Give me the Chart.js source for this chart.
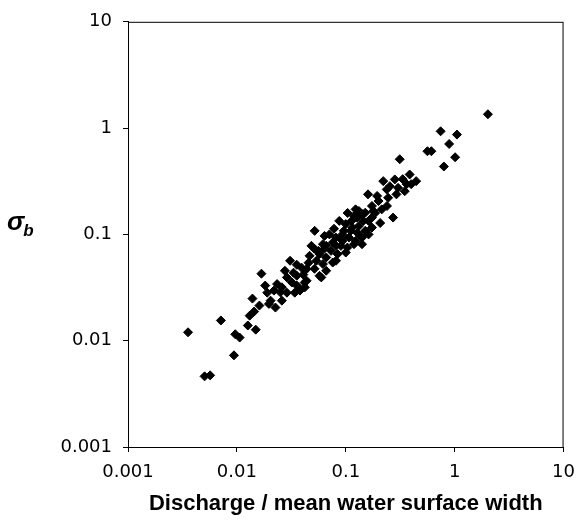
<!DOCTYPE html>
<html>
<head>
<meta charset="utf-8">
<script src="https://cdn.jsdelivr.net/npm/chart.js@4.4.0/dist/chart.umd.min.js"></script>
<style>
    body { margin: 0; background: #fff; }
    canvas { display: block; }
</style>
</head>
<body>
<canvas id="chart" width="585" height="520"></canvas>
<script>
// Discharge / mean water surface width (x) vs sigma_b (y)
const discharge = [
    2.02, 0.743, 1.05, 0.89, 0.562, 0.611, 1.01, 0.796, 0.313, 0.443,
    0.386, 0.399, 0.282, 0.221, 0.238, 0.245, 0.302, 0.292, 0.160, 0.200,
    0.174, 0.214, 0.132, 0.151, 0.127, 0.162, 0.272, 0.0871, 0.100, 0.115,
    0.132, 0.151, 0.174, 0.0708, 0.0813, 0.0933, 0.107, 0.123, 0.141, 0.162,
    0.0759, 0.0902, 0.1035, 0.119, 0.141, 0.0733, 0.0841, 0.100, 0.0661, 0.0518,
    0.0638, 0.0617, 0.0484, 0.0574, 0.0759, 0.0617, 0.0537, 0.0308, 0.0355, 0.0394,
    0.0331, 0.0407, 0.0437, 0.0574, 0.0288, 0.0320, 0.0355, 0.0379, 0.0234, 0.0259,
    0.0219, 0.0251, 0.0204, 0.0226, 0.0168, 0.0139, 0.0144, 0.0131, 0.00713, 0.0126,
    0.0149, 0.00356, 0.00966, 0.0106, 0.0094, 0.00505, 0.00568, 0.0197, 0.0421, 0.0661,
    0.0813, 0.0596, 0.0933, 0.123, 0.141, 0.174, 0.0288, 0.0465, 0.0516, 0.096,
    0.113, 0.186, 0.239, 0.348, 0.207, 0.0634, 0.0437, 0.019, 0.0276, 0.0355,
    0.0455, 0.0516, 0.056, 0.0661, 0.078, 0.0902, 0.111, 0.128, 0.145, 0.179,
    0.194, 0.254, 0.333, 0.362, 0.119, 0.104, 0.0813, 0.0419, 0.034, 0.0182,
    0.0259, 0.0161
];
const sigmaB = [
    1.35, 0.933, 0.869, 0.709, 0.606, 0.606, 0.532, 0.435, 0.509, 0.317,
    0.366, 0.297, 0.329, 0.317, 0.265, 0.221, 0.274, 0.238, 0.238, 0.206,
    0.185, 0.172, 0.166, 0.160, 0.144, 0.134, 0.144, 0.134, 0.125, 0.116,
    0.120, 0.108, 0.116, 0.100, 0.0933, 0.100, 0.0933, 0.0869, 0.0933, 0.100,
    0.0838, 0.078, 0.0752, 0.0809, 0.0809, 0.070, 0.0653, 0.0675, 0.0607, 0.108,
    0.0968, 0.0809, 0.078, 0.0653, 0.0544, 0.0526, 0.0565, 0.0565, 0.0518, 0.0485,
    0.0436, 0.0418, 0.0472, 0.0408, 0.0394, 0.0353, 0.033, 0.0296, 0.0341, 0.0318,
    0.0296, 0.0285, 0.0238, 0.0205, 0.0427, 0.0249, 0.0188, 0.0172, 0.0155, 0.0139,
    0.0127, 0.0120, 0.0115, 0.0107, 0.00728, 0.00462, 0.00472, 0.0222, 0.0318, 0.0455,
    0.0565, 0.0394, 0.0869, 0.172, 0.155, 0.144, 0.0283, 0.0629, 0.0731, 0.108,
    0.134, 0.159, 0.185, 0.255, 0.128, 0.0731, 0.0366, 0.0283, 0.0455, 0.0408,
    0.0541, 0.0475, 0.070, 0.078, 0.113, 0.0908, 0.108, 0.103, 0.134, 0.166,
    0.230, 0.284, 0.331, 0.297, 0.149, 0.159, 0.078, 0.0352, 0.0283, 0.033,
    0.0238, 0.0214
];
const axisTicks = [0.001, 0.01, 0.1, 1, 10];
const xTitle = 'Discharge / mean water surface width';

const points = discharge.map((x, i) => ({ x: x, y: sigmaB[i] }));

// marco completo y etiqueta sigma_b horizontal
const frameAndLabel = {
    id: 'frameAndLabel',
    afterDraw(chart) {
        const { ctx, chartArea: a } = chart;
        ctx.save();
        ctx.strokeStyle = '#000';
        ctx.lineWidth = 1;
        ctx.strokeRect(a.left + 0.5, a.top + 0.5, a.right - a.left - 1, a.bottom - a.top);
        ctx.fillStyle = '#000';
        ctx.textBaseline = 'alphabetic';
        ctx.font = 'italic bold 26px "Liberation Sans"';
        ctx.fillText('σ', 7, 230);
        const w = ctx.measureText('σ').width;
        ctx.font = 'italic bold 17px "Liberation Sans"';
        ctx.fillText('b', 7 + w - 1, 236);
        ctx.restore();
    }
};

const onlyDecades = scale => {
    scale.ticks = axisTicks.map(v => ({ value: v }));
};

new Chart(document.getElementById('chart'), {
    type: 'scatter',
    data: {
        datasets: [{
            data: points,
            pointStyle: 'rectRot',
            pointRadius: 4.5,
            pointBorderWidth: 1,
            backgroundColor: '#000',
            borderColor: '#000'
        }]
    },
    options: {
        responsive: false,
        animation: false,
        layout: { padding: { top: 20, right: 12, left: 0, bottom: 0 } },
        plugins: { legend: { display: false }, tooltip: { enabled: false } },
        scales: {
            x: {
                type: 'logarithmic',
                min: 0.001,
                max: 10,
                afterBuildTicks: onlyDecades,
                afterFit: scale => { scale.height = 73; },
                grid: { display: true, drawOnChartArea: false, drawTicks: true, tickLength: 5, color: '#000' },
                border: { display: true, color: '#000', width: 1 },
                ticks: {
                    color: '#000',
                    padding: 10,
                    maxRotation: 0,
                    autoSkip: false,
                    font: { family: 'DejaVu Sans', size: 18 },
                    callback: v => String(v)
                },
                title: {
                    display: true,
                    text: xTitle,
                    color: '#000',
                    font: { family: 'Liberation Sans', size: 22, weight: 'bold' },
                    padding: { top: 4, bottom: 3 }
                }
            },
            y: {
                type: 'logarithmic',
                min: 0.001,
                max: 10,
                afterBuildTicks: onlyDecades,
                afterFit: scale => { scale.width = 128; },
                grid: { display: true, drawOnChartArea: false, drawTicks: true, tickLength: 5, color: '#000' },
                border: { display: true, color: '#000', width: 1 },
                ticks: {
                    color: '#000',
                    padding: 11,
                    autoSkip: false,
                    font: { family: 'DejaVu Sans', size: 18 },
                    callback: v => String(v)
                }
            }
        }
    },
    plugins: [frameAndLabel]
});
</script>
</body>
</html>
